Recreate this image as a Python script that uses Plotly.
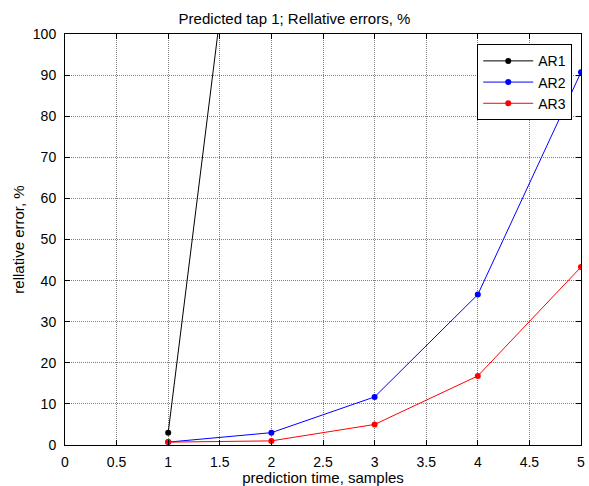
import plotly.graph_objects as go

x = [1, 2, 3, 4, 5]
ar1 = [3.0, 205.0, 900.0, 3000.0, 9000.0]
ar2 = [0.7, 3.0, 11.7, 36.6, 90.7]
ar3 = [0.7, 1.0, 5.0, 16.8, 43.3]
names = ["AR1", "AR2", "AR3"]
colors = ["#000000", "#0000ff", "#ff0000"]
x_ticks = [0, 0.5, 1, 1.5, 2, 2.5, 3, 3.5, 4, 4.5, 5]
x_tick_text = ["0", "0.5", "1", "1.5", "2", "2.5", "3", "3.5", "4", "4.5", "5"]
y_ticks = [0, 10, 20, 30, 40, 50, 60, 70, 80, 90, 100]

fig = go.Figure()
for name, ys, c in zip(names, [ar1, ar2, ar3], colors):
    fig.add_trace(go.Scatter(x=x, y=ys, mode="lines+markers", name=name,
                             line=dict(color=c, width=1),
                             marker=dict(color=c, size=6)))

fam = "Liberation Sans, Arial, sans-serif"
tick_font = dict(family=fam, size=14, color="#000")
lab_font = dict(family=fam, size=15, color="#000")
axis_common = dict(showline=True, linecolor="#000", linewidth=1, mirror="ticks",
                   ticks="inside", ticklen=5, tickcolor="#000",
                   showgrid=True, gridcolor="#808080", griddash="1px,1px", gridwidth=1,
                   zeroline=False, tickfont=tick_font, ticklabeloverflow="allow")
fig.update_layout(
    width=589, height=486,
    margin=dict(l=65, r=4, t=34, b=41),
    paper_bgcolor="white", plot_bgcolor="white",
    font=tick_font,
    title=dict(text="Predicted tap 1; Rellative errors, %", x=0.5, xanchor="center",
               y=1 - 19 / 486, yanchor="middle", font=lab_font),
    xaxis=dict(range=[0, 5], tickvals=x_ticks, ticktext=x_tick_text,
               ticklabelstandoff=4,
               title=dict(text="prediction time, samples", font=lab_font, standoff=2),
               **axis_common),
    yaxis=dict(range=[0, 100], tickvals=y_ticks, ticklabelstandoff=5,
               title=dict(text="rellative error, %", font=lab_font, standoff=4),
               **axis_common),
    legend=dict(x=0.983, y=0.975, xanchor="right", yanchor="top",
                bgcolor="white", bordercolor="#000", borderwidth=1,
                font=dict(family=fam, size=14, color="#000"),
                tracegroupgap=0, itemwidth=50),
    showlegend=True,
)
fig.write_html("out.html")
